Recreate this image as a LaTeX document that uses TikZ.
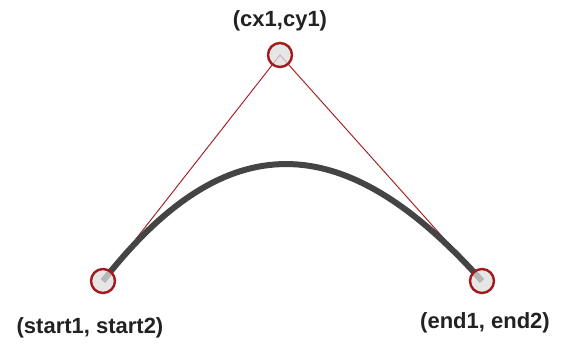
\documentclass[tikz,border=0pt]{standalone}
\usepackage{fontspec}
\setmainfont{Liberation Sans}
\usetikzlibrary{calc}
\definecolor{handlered}{HTML}{A31A1E}
\definecolor{curvegray}{HTML}{444444}
\definecolor{txtgray}{HTML}{222222}
\tikzset{
  handle/.style = {circle, draw=handlered, line width=1.8pt, fill=black!13, fill opacity=0.75, minimum size=18pt, inner sep=0},
  guide/.style  = {draw=handlered, line width=0.7pt},
  curve/.style  = {draw=curvegray, line width=4.5pt},
  et/.style     = {font=\fontsize{16.5}{18}\selectfont\bfseries, text=txtgray}
}
\begin{document}
\begin{tikzpicture}[x=0.75pt, y=-0.75pt]
  \useasboundingbox (0,0) rectangle (576,347);
  \coordinate (s) at (103,281); \coordinate (c) at (280,55); \coordinate (e) at (482,281);
  \draw[guide] (s) -- (c) -- (e);
  \draw[curve] (s) .. controls ($(s)!0.69!(c)$) and ($(e)!0.69!(c)$) .. (e);
  \node[handle] (sh) at (s) {}; \node[et] (sl) at (90,328) {(start1, start2)};
  \node[handle] (ch) at (c) {}; \node[et] (cl) at (280,21) {(cx1,cy1)};
  \node[handle] (eh) at (e) {}; \node[et] (el) at (485,323) {(end1, end2)};
\end{tikzpicture}
\end{document}
